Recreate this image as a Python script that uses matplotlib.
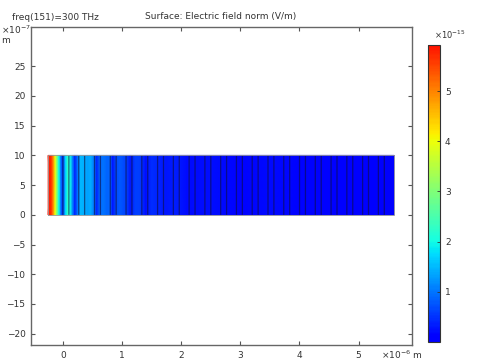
import matplotlib
matplotlib.use("Agg")
import matplotlib.pyplot as plt
import numpy as np
from matplotlib.colors import LinearSegmentedColormap

# field norm along x (x in um, values in 1e-15 V/m)
field_x = [-0.25, -0.20, -0.165, -0.13, -0.10, -0.07, -0.04, -0.01, 0.02, 0.05,
           0.085, 0.12, 0.16, 0.20, 0.25, 0.30, 0.36, 0.42, 0.47, 0.53,
           0.57, 0.62, 0.68, 0.74, 0.80, 0.84, 0.90, 0.96, 1.02, 1.08,
           1.14, 1.22, 1.30, 1.40, 1.50, 1.60, 1.75, 1.90, 2.10, 2.50,
           3.00, 3.50, 4.00, 4.50, 5.00, 5.60]
field_v = [5.9, 5.7, 5.0, 4.0, 3.0, 2.0, 1.2, 0.5, 1.0, 1.8,
           2.3, 2.0, 1.2, 0.4, 1.0, 1.5, 1.4, 1.3, 1.4, 1.0,
           0.4, 0.9, 1.0, 0.9, 0.9, 0.3, 0.7, 0.8, 0.7, 0.6,
           0.3, 0.6, 0.6, 0.25, 0.45, 0.4, 0.3, 0.35, 0.2, 0.25,
           0.15, 0.2, 0.15, 0.15, 0.1, 0.1]

# geometry (um): input region then 21 periods of thin/thick layers
x_start = -0.25
layer_thickness = [0.1, 0.1667] * 21
slab_height = 1.0  # um (10 x 1e-7 m)

vmax = 5.92
xticks = [0, 1, 2, 3, 4, 5]
yticks = [-20, -15, -10, -5, 0, 5, 10, 15, 20, 25]

cmap = LinearSegmentedColormap.from_list("rainbow", plt.cm.jet(np.linspace(0.11, 0.89, 256)))

fig = plt.figure(figsize=(4.87, 3.63), dpi=100)
ax = fig.add_axes([0.0637, 0.0496, 0.782, 0.876])

fs = 6.5
tc = '#333333'

# surface plot (y in units of 1e-7 m)
X = np.array([field_x, field_x])
Y = np.array([[0.0] * len(field_x), [slab_height * 10] * len(field_x)])
C = np.array([field_v, field_v])
mesh = ax.pcolormesh(X, Y, C, shading='gouraud', cmap=cmap, vmin=0, vmax=vmax)

# layer edges
edges = np.concatenate([[0.0], np.cumsum(layer_thickness)])
ax.vlines(edges[:-1], 0, slab_height * 10, color='#101040', alpha=0.6, lw=0.9,
          antialiased=True, snap=False, zorder=3)
ax.plot([x_start, edges[-1], edges[-1], x_start, x_start],
        [0, 0, slab_height * 10, slab_height * 10, 0], color='#999999', lw=0.6, zorder=3)

ax.set_xlim(-0.54, 5.9)
ax.set_ylim(-21.9, 31.6)
ax.set_xticks(xticks)
ax.set_yticks(yticks)
ax.tick_params(direction='in', top=True, right=True, labelsize=fs, colors='#555555',
               labelcolor=tc, length=3, width=0.8, pad=4)
for s in ax.spines.values():
    s.set_color('#666666')
    s.set_linewidth(1.0)

ax.text(-0.078, 0.99, r'$\times 10^{-7}$', transform=ax.transAxes, fontsize=fs, color=tc,
        ha='left', va='center')
ax.text(-0.078, 0.956, 'm', transform=ax.transAxes, fontsize=fs, color=tc, ha='left', va='center')
ax.text(0.918, -0.03, r'$\times 10^{-6}$ m', transform=ax.transAxes, fontsize=fs, color=tc,
        ha='left', va='center')

fig.text(12 / 487, 1 - 17 / 363, 'freq(151)=300 THz', fontsize=fs, color=tc, ha='left', va='center')
fig.text(221 / 487, 1 - 17 / 363, 'Surface: Electric field norm (V/m)', fontsize=fs, color=tc,
         ha='center', va='center')

# colorbar
cax = fig.add_axes([428 / 487, 1 - 342 / 363, 12 / 487, 297 / 363])
cb = fig.colorbar(mesh, cax=cax, ticks=[1, 2, 3, 4, 5])
cb.outline.set_linewidth(0.8)
cb.outline.set_edgecolor('#333333')
cax.tick_params(direction='in', length=2, width=0.6, labelsize=fs, labelcolor=tc, colors='#333333')
cax.text(0.5, 1.015, r'$\times 10^{-15}$', transform=cax.transAxes, fontsize=fs - 0.5, color=tc,
         ha='left', va='bottom')

fig.savefig('out.png', dpi=100)
